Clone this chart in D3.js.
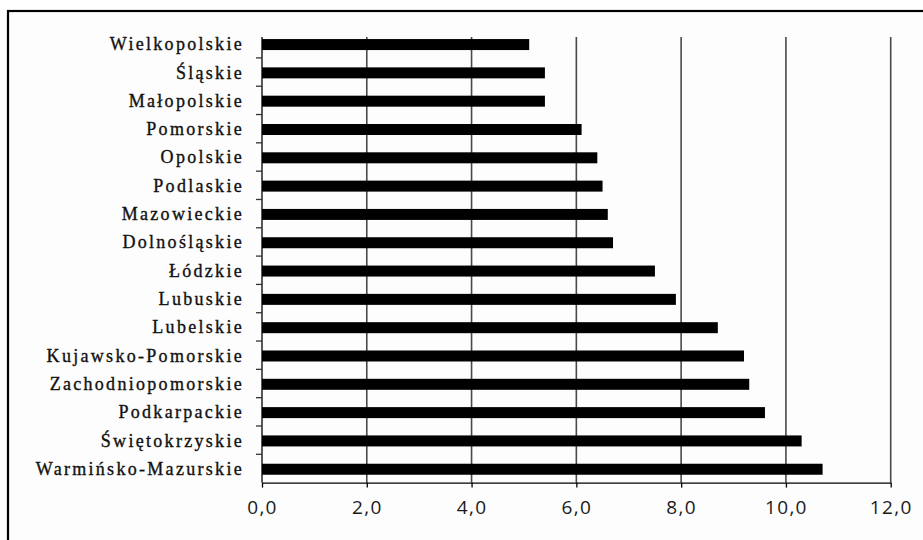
<!DOCTYPE html>
<html><head><meta charset="utf-8">
<script src="https://cdn.jsdelivr.net/npm/d3@7"></script>
<style>
html,body{margin:0;padding:0;background:#fff;}
svg{display:block;}
</style></head>
<body>
<svg id="chart" width="923" height="540"></svg>
<script>
const categories = ["Wielkopolskie","Śląskie","Małopolskie","Pomorskie","Opolskie","Podlaskie","Mazowieckie","Dolnośląskie","Łódzkie","Lubuskie","Lubelskie","Kujawsko-Pomorskie","Zachodniopomorskie","Podkarpackie","Świętokrzyskie","Warmińsko-Mazurskie"];
const values = [5.1,5.4,5.4,6.1,6.4,6.5,6.6,6.7,7.5,7.9,8.7,9.2,9.3,9.6,10.3,10.7];
const xTicks = [0,2,4,6,8,10,12];
const xTickLabels = ["0,0","2,0","4,0","6,0","8,0","10,0","12,0"];

const svg = d3.select("#chart");
// frame
svg.append("rect").attr("x",8).attr("y",11).attr("width",940).attr("height",560)
  .attr("fill","#fdfdfd").attr("stroke","#000").attr("stroke-width",2.2);

const x = d3.scaleLinear().domain([0,12]).range([262,890.7]);
const y = d3.scaleBand().domain(categories).range([29.6,482.6]).padding(0);
const plotTop = 37, plotBottom = 482.6;

// gridlines
svg.append("g").selectAll("line").data(xTicks.filter(d=>d>0)).join("line")
  .attr("x1",d=>x(d)).attr("x2",d=>x(d)).attr("y1",plotTop).attr("y2",plotBottom)
  .attr("stroke","#4a4a4a").attr("stroke-width",1.6);

// bars
const barH = 11;
svg.append("g").selectAll("rect").data(values).join("rect")
  .attr("x",x(0)).attr("y",(d,i)=>y(categories[i])+y.bandwidth()/2-barH/2+0.8)
  .attr("width",d=>x(d)-x(0)).attr("height",barH).attr("fill","#000");

// x axis
const xAxis = d3.axisBottom(x).tickValues(xTicks).tickSize(5).tickSizeOuter(0)
  .tickFormat((d,i)=>xTickLabels[i]);
const gx = svg.append("g").attr("transform",`translate(0,${plotBottom})`).call(xAxis);
gx.select(".domain").attr("stroke","#000").attr("stroke-width",1.3);
gx.selectAll(".tick line").attr("stroke","#000").attr("stroke-width",1.3);
gx.selectAll(".tick text").attr("y",25).attr("dy","0.35em")
  .attr("font-family","'Open Sans', sans-serif").attr("font-size",19)
  .attr("letter-spacing","1.3px").attr("fill","#1a1a1a");

// y axis (labels, no ticks)
const yAxis = d3.axisLeft(y).tickSize(0).tickSizeOuter(0);
const gy = svg.append("g").attr("transform",`translate(${x(0)},0)`).call(yAxis);
gy.select(".domain").remove();
gy.selectAll(".tick text").attr("x",-18).attr("dy","0.36em")
  .attr("font-family","'Liberation Serif', 'Times New Roman', serif").attr("font-size",18)
  .attr("letter-spacing","2.3px").attr("fill","#111")
  .attr("stroke","#111").attr("stroke-width",0.35);

// y axis line and boundary ticks
svg.append("line").attr("x1",x(0)).attr("x2",x(0)).attr("y1",plotTop).attr("y2",plotBottom)
  .attr("stroke","#000").attr("stroke-width",1.3);
svg.append("g").selectAll("line").data(categories.slice(1)).join("line")
  .attr("x1",x(0)-6).attr("x2",x(0)).attr("y1",d=>y(d)).attr("y2",d=>y(d))
  .attr("stroke","#333").attr("stroke-width",1.3);
</script>
</body></html>
